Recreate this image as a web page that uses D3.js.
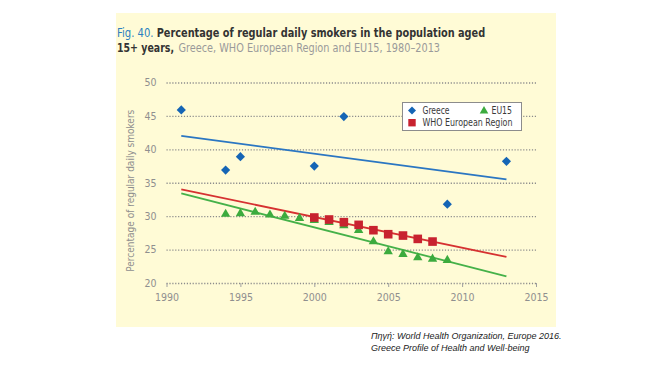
<!DOCTYPE html>
<html><head><meta charset="utf-8">
<script src="https://cdn.jsdelivr.net/npm/d3@7"></script>
<style>
body{margin:0;background:#fff;}
svg{display:block;}
</style></head>
<body>
<svg id="c" width="655" height="370"></svg>
<script>
// ---- data ----
const greeceYears = [1991, 1994, 1995, 2000, 2002, 2009, 2013];
const greeceValues = [45.9, 36.9, 38.9, 37.5, 44.9, 31.8, 38.2];
const eu15Years = [1994,1995,1996,1997,1998,1999,2000,2001,2002,2003,2004,2005,2006,2007,2008,2009];
const eu15Values = [30.3,30.4,30.6,30.2,30.0,29.7,29.4,29.1,28.6,27.9,26.2,24.7,24.3,23.8,23.6,23.4];
const whoYears = [2000,2001,2002,2003,2004,2005,2006,2007,2008];
const whoValues = [29.8,29.5,29.1,28.7,27.9,27.3,27.1,26.6,26.2];
const trendYears = [1991, 2013];
const greeceTrend = [42.0, 35.5];
const whoTrend = [34.0, 23.9];
const eu15Trend = [33.4, 21.0];
const xTicks = [1990, 1995, 2000, 2005, 2010, 2015];
const yTicks = [20, 25, 30, 35, 40, 45, 50];

const FONT = "'DejaVu Sans Condensed','Liberation Sans Narrow','Open Sans',sans-serif";
const svg = d3.select("#c");

svg.append("rect").attr("x",116).attr("y",13).attr("width",440).attr("height",314).attr("fill","#fffbd6");

const x = d3.scaleLinear().domain([1990, 2015]).range([166.5, 536]);
const y = d3.scaleLinear().domain([20, 50]).range([283, 82.5]);

// y axis with dotted gridlines
const yAxis = svg.append("g").attr("transform", `translate(${x(1990)},0)`)
  .call(d3.axisLeft(y).tickValues(yTicks).tickSize(-(x(2015)-x(1990))).tickPadding(10));
yAxis.select(".domain").remove();
yAxis.selectAll(".tick line").attr("stroke","#8c8c8c").attr("stroke-width",1.3).attr("stroke-dasharray","1.2,1.7");
yAxis.selectAll(".tick text").attr("fill","#8f8f8f").attr("font-size",10.5).attr("font-family",FONT);

// x axis
const xAxis = svg.append("g").attr("transform", `translate(0,${y(20)})`)
  .call(d3.axisBottom(x).tickValues(xTicks).tickFormat(d3.format("d")).tickSize(4).tickPadding(7));
xAxis.select(".domain").remove();
xAxis.selectAll(".tick line").attr("stroke","#a0a0a0").attr("stroke-width",1);
xAxis.selectAll(".tick text").attr("fill","#8f8f8f").attr("font-size",10.5).attr("font-family",FONT);

// y axis label
svg.append("text").attr("transform",`translate(134,${(y(20)+y(50))/2 + 8}) rotate(-90)`)
  .attr("text-anchor","middle").attr("fill","#8f8f8f").attr("font-size",10).attr("font-family",FONT)
  .text("Percentage of regular daily smokers");

// trend lines
const line = d3.line().x(d=>x(d[0])).y(d=>y(d[1]));
const trends = [[greeceTrend,"#2b76c2"],[whoTrend,"#d63131"],[eu15Trend,"#45b149"]];
trends.forEach(([vals,col])=>{
  svg.append("path").datum(trendYears.map((yr,i)=>[yr,vals[i]]))
    .attr("d",line).attr("fill","none").attr("stroke",col).attr("stroke-width",1.8);
});

// markers
const diamond = d3.symbol().type(d3.symbolSquare).size(42);
svg.append("g").selectAll("path").data(greeceYears.map((yr,i)=>[yr,greeceValues[i]])).join("path")
  .attr("d",diamond).attr("transform",d=>`translate(${x(d[0])},${y(d[1])}) rotate(45)`).attr("fill","#1565b5");
svg.append("g").selectAll("path").data(eu15Years.map((yr,i)=>[yr,eu15Values[i]])).join("path")
  .attr("d",d3.symbol().type(d3.symbolTriangle).size(38)).attr("transform",d=>`translate(${x(d[0])},${y(d[1])})`).attr("fill","#3cab3e");
svg.append("g").selectAll("rect").data(whoYears.map((yr,i)=>[yr,whoValues[i]])).join("rect")
  .attr("x",d=>x(d[0])-4.3).attr("y",d=>y(d[1])-4.3).attr("width",8.6).attr("height",8.6).attr("fill","#c8222f");

// legend
const lg = svg.append("g");
lg.append("rect").attr("x",402.5).attr("y",102.5).attr("width",119).attr("height",28).attr("fill","#fff").attr("stroke","#8c8c8c").attr("stroke-width",1);
lg.append("path").attr("d",d3.symbol().type(d3.symbolSquare).size(32)).attr("transform","translate(412,110.5) rotate(45)").attr("fill","#1565b5");
lg.append("path").attr("d",d3.symbol().type(d3.symbolTriangle).size(32)).attr("transform","translate(484,111)").attr("fill","#3cab3e");
lg.append("rect").attr("x",408.3).attr("y",119).attr("width",7.4).attr("height",7.4).attr("fill","#c8222f");
const lt = [["Greece",422.5,114.3,27],["EU15",491.5,114.3,20.5],["WHO European Region",422.5,126.2,90]];
lt.forEach(([t,tx,ty,w])=>lg.append("text").attr("x",tx).attr("y",ty).attr("font-size",10).attr("font-family",FONT)
  .attr("textLength",w).attr("lengthAdjust","spacingAndGlyphs").attr("fill","#3a3a3a").text(t));

// title (separate pieces)
const titleParts = [
  ["Fig. 40.", 117, 36.5, 36.5, "#2a7fc0", "normal"],
  ["Percentage of regular daily smokers in the population aged", 156.7, 36.5, 328.5, "#333", "bold"],
  ["15+ years,", 117, 51.5, 57, "#333", "bold"],
  ["Greece, WHO European Region and EU15, 1980–2013", 178.5, 51.5, 261.5, "#9a9a9a", "normal"]
];
titleParts.forEach(([t,tx,ty,w,col,fw])=>svg.append("text").attr("x",tx).attr("y",ty).attr("font-size",12.5)
  .attr("font-family",FONT).attr("font-weight",fw).attr("fill",col)
  .attr("textLength",w).attr("lengthAdjust","spacingAndGlyphs").text(t));

// source caption
const cap = ["Πηγή: World Health Organization, Europe 2016.","Greece Profile of Health and Well-being"];
cap.forEach((c,i)=>svg.append("text").attr("x",371).attr("y",338.5+i*12).attr("font-size",9)
  .attr("font-style","italic").attr("font-family","'Liberation Sans','Open Sans',sans-serif").attr("fill","#222").text(c));
</script>
</body></html>
